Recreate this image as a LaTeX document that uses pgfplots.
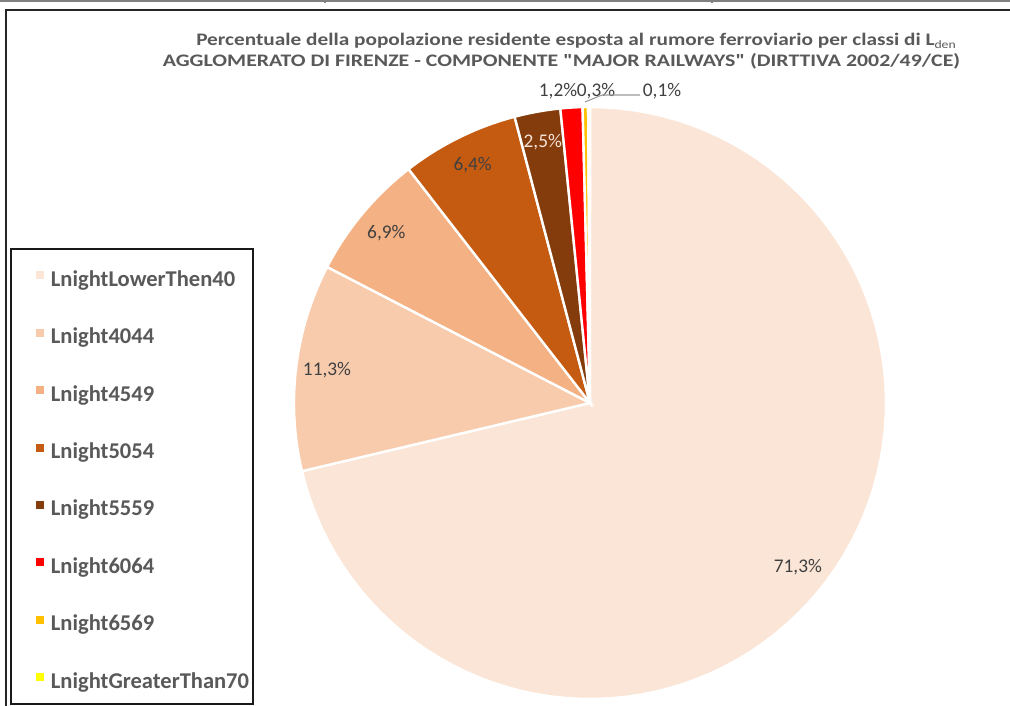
\documentclass[border=0pt]{standalone}
\usepackage{pgfplots}
\pgfplotsset{compat=1.18}
\usepackage{pgfplotstable}
\usepackage{fontspec}
\setmainfont{Carlito}
\newfontfamily\titlefontA[FakeStretch=1.21]{Carlito}
\newfontfamily\titlefontB[FakeStretch=1.24]{Carlito}
\definecolor{pc0}{HTML}{FBE5D6}
\definecolor{pc1}{HTML}{F8CBAD}
\definecolor{pc2}{HTML}{F4B183}
\definecolor{pc3}{HTML}{C55A11}
\definecolor{pc4}{HTML}{843C0C}
\definecolor{pc5}{HTML}{FF0000}
\definecolor{pc6}{HTML}{FFC000}
\definecolor{pc7}{HTML}{FFFF00}
\definecolor{txt}{HTML}{595959}
\definecolor{lbl}{HTML}{404040}
\definecolor{lc0}{HTML}{404040}
\definecolor{lc1}{HTML}{404040}
\definecolor{lc2}{HTML}{404040}
\definecolor{lc3}{HTML}{404040}
\definecolor{lc4}{HTML}{F6E3D8}

\pgfplotstableread{
label value
LnightLowerThen40 71.3
Lnight4044 11.3
Lnight4549 6.9
Lnight5054 6.4
Lnight5559 2.5
Lnight6064 1.2
Lnight6569 0.3
LnightGreaterThan70 0.1
}\piedata

\begin{document}
\begin{tikzpicture}
\begin{axis}[
  width=757.5pt, height=529.5pt, scale only axis,
  xmin=0, xmax=1010, ymin=0, ymax=706,
  hide axis, clip=false,
  /pgf/number format/assume math mode=true,
  legend style={at={(axis cs:10,458)}, anchor=north west, draw=black!90,
    line width=1.4pt, font=\fontsize{16.9}{20}\selectfont\bfseries, text=txt,
    row sep=23.5pt, column sep=5.25pt, inner xsep=3pt, inner ysep=10.1pt,
    nodes={text height=18pt, text depth=1.55pt, inner xsep=0pt, inner ysep=0pt},
    cells={anchor=west}},
  legend image code/.code={\path (0pt,0pt); \fill[#1] (15.75pt,-3pt) rectangle (21.75pt,3pt);},
]
\pgfmathsetmacro\cum{90}
\pgfplotsforeachungrouped \i in {0,...,7}{
  \pgfplotstablegetelem{\i}{value}\of\piedata
  \let\val\pgfplotsretval
  \pgfplotstablegetelem{\i}{label}\of\piedata
  \let\lab\pgfplotsretval
  \pgfmathsetmacro\endang{\cum-3.6*\val}
  \pgfmathsetmacro\midang{(\cum+\endang)/2}
  \pgfmathsetmacro\lx{590+265*cos(\midang)}
  \pgfmathsetmacro\ly{303+265*sin(\midang)}
  \edef\temp{\noexpand\addplot[draw=white, line width=1.8pt, fill=pc\i, domain=\endang:\cum, samples=90, forget plot]
     ({590+296*cos(x)},{303+296*sin(x)}) -- (axis cs:590,303) -- cycle;
     \noexpand\addlegendimage{fill=pc\i, draw=none}
     \noexpand\addlegendentry{\lab}}
  \temp
  \ifnum\i<5
    \edef\temp{\noexpand\node[font=\noexpand\fontsize{14.5}{16}\noexpand\selectfont, text=lc\i] at (axis cs:\lx,\ly) {\noexpand\pgfmathprintnumber[fixed,fixed zerofill,precision=1,use comma]{\val}\noexpand\%};}
    \temp
  \fi
  \global\let\cum\endang
}
\node[font=\fontsize{14.5}{16}\selectfont, text=lbl] at (axis cs:558,615) {1,2\%};
\node[font=\fontsize{14.5}{16}\selectfont, text=lbl] at (axis cs:596,615) {0,3\%};
\node[font=\fontsize{14.5}{16}\selectfont, text=lbl] at (axis cs:662,615) {0,1\%};
\draw[gray!80, line width=0.8pt] (axis cs:585,604) -- (axis cs:602,611) -- (axis cs:640,611);
% titles
\node[font=\titlefontA\fontsize{13.2}{15}\selectfont\bfseries, text=txt] at (axis cs:576,665) {Percentuale della popolazione residente esposta al rumore ferroviario per classi di L\raisebox{-0.35ex}{\fontsize{8.5}{9}\selectfont\mdseries den}};
\node[font=\titlefontB\fontsize{13.2}{15}\selectfont\bfseries, text=txt] at (axis cs:561.5,645) {AGGLOMERATO DI FIRENZE - COMPONENTE {\char34}MAJOR RAILWAYS{\char34} (DIRTTIVA 2002/49/CE)};
% frame
\draw[black!85, line width=1.8pt] (axis cs:6,0) -- (axis cs:6,696) -- (axis cs:1010,696);
\draw[gray, line width=0.8pt] (axis cs:0,705) -- (axis cs:1010,705);
\draw[gray, line width=0.8pt] (axis cs:325,706) -- (axis cs:325,703);
\draw[gray, line width=0.8pt] (axis cs:712,706) -- (axis cs:712,703);
\end{axis}
\pgfresetboundingbox
\path (current axis.south west) rectangle (current axis.north east);
\end{tikzpicture}
\end{document}
